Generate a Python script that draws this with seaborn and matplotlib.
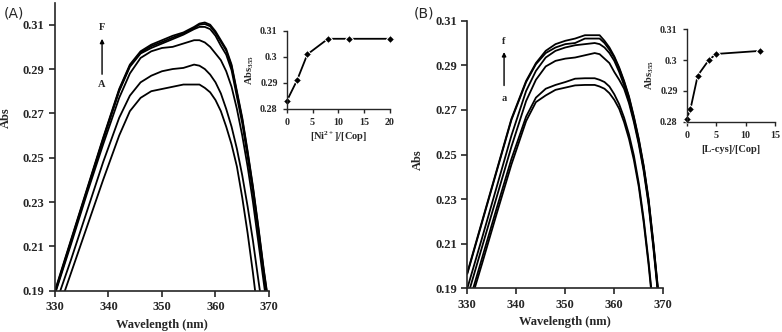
import numpy as np
import pandas as pd
import matplotlib
matplotlib.use('Agg')
import matplotlib.pyplot as plt
import seaborn as sns

sns.set_style('ticks')
matplotlib.rcParams.update({'font.family': ['Liberation Serif', 'DejaVu Serif'],
                            'font.weight': 'bold',
                            'mathtext.fontset': 'custom',
                            'mathtext.rm': 'Liberation Serif:bold',
                            'mathtext.it': 'Liberation Serif:bold',
                            'axes.linewidth': 1.2})

##################################################################
#### spectra
##################################################################
wl = [330, 333, 336, 339, 342, 344, 346, 348, 350, 352, 354, 356, 357,
      358, 359, 360, 361, 362, 363, 364, 365, 366, 367, 368, 369, 370]

# panel A, Ni2+ titration, curves A..F
abs_A = {
    'A': [.177, .198, .219, .240, .260, .271, .277, .280, .281, .282, .283, .283, .283,
          .2815, .2795, .276, .271, .264, .256, .246, .232, .216, .198, .178, .160, .140],
    'B': [.183, .204, .226, .248, .268, .278, .284, .287, .289, .290, .2905, .292, .2915,
          .290, .2875, .284, .279, .272, .264, .254, .242, .228, .2125, .195, .178, .160],
    'C': [.1885, .211, .234, .256, .277, .288, .295, .298, .2995, .300, .3015, .303, .303,
          .302, .300, .297, .294, .289, .282, .272, .260, .246, .230, .212, .194, .176],
    'D': [.189, .212, .235, .258, .280, .291, .297, .2995, .3015, .3035, .3055, .308, .309,
          .309, .308, .305, .3005, .2965, .2895, .2775, .2655, .2505, .2345, .2165, .1975, .1805],
    'E': [.1895, .2125, .2355, .2585, .2805, .2915, .2975, .3003, .3022, .3042, .306, .3085, .310,
          .3103, .3093, .3063, .3023, .2983, .2913, .2793, .2673, .2523, .2363, .2183, .1993, .1823],
    'F': [.190, .213, .236, .259, .281, .292, .298, .301, .303, .305, .3065, .309, .3105,
          .311, .310, .307, .303, .299, .292, .280, .268, .253, .237, .219, .200, .183],
}

# panel B, L-cys, curves a..f
abs_B = {
    'a': [.179, .201, .2235, .2455, .265, .2735, .2765, .279, .280, .281, .2812, .2812, .2805,
          .2795, .2775, .2745, .2705, .2645, .257, .2475, .2355, .2195, .2005, .1785, .160, .140],
    'b': [.181, .2035, .226, .248, .267, .2755, .2795, .2812, .2825, .284, .2842, .2842, .2835,
          .2825, .2805, .277, .2725, .2665, .259, .2495, .237, .221, .202, .180, .160, .140],
    'c': [.186, .2085, .231, .2535, .274, .2835, .2895, .292, .293, .2935, .2945, .2955, .295,
          .293, .291, .287, .2835, .2795, .273, .2645, .2545, .2425, .2275, .2075, .1855, .1645],
    'd': [.190, .2125, .2355, .2585, .2785, .2875, .2935, .2965, .298, .299, .2995, .300, .2995,
          .298, .2955, .292, .287, .281, .274, .2655, .2555, .2435, .2285, .2085, .1865, .1655],
    'e': [.1965, .2195, .2425, .2655, .2825, .2905, .2955, .298, .2995, .300, .302, .302, .302,
          .300, .297, .2935, .2885, .2825, .2755, .2665, .2565, .2445, .2295, .2095, .1875, .1665],
    'f': [.197, .220, .243, .266, .283, .291, .2965, .2995, .301, .302, .3035, .3035, .3035,
          .301, .298, .294, .289, .283, .276, .267, .257, .245, .230, .210, .188, .167],
}

# insets
ratio_Ni = [0, 2, 4, 8, 12, 20]
abs355_Ni = [0.283, 0.291, 0.301, 0.307, 0.307, 0.307]
ratio_cys = [0, 0.63, 1.88, 3.75, 5.0, 12.5]
abs355_cys = [0.281, 0.284, 0.295, 0.300, 0.302, 0.303]

def to_long(curves):
    rows = []
    for name, vals in curves.items():
        for w, v in zip(wl, vals):
            rows.append((name, w, v))
    return pd.DataFrame(rows, columns=['curve', 'wl', 'abs'])

dfA = to_long(abs_A)
dfB = to_long(abs_B)

############################################################################
plt.close('all')
fig = plt.figure(figsize=[7.82, 3.32], dpi=100)
ax1 = fig.add_axes([0.0703, 0.1244, 0.2737, 0.868])
ax2 = fig.add_axes([0.5976, 0.1316, 0.2506, 0.806])
ins1 = fig.add_axes([0.3666, 0.6717, 0.1321, 0.235])
ins2 = fig.add_axes([0.8781, 0.6334, 0.1129, 0.2783])

fz = 9
for ax, df, top in [(ax1, dfA, 0.32), (ax2, dfB, 0.31)]:
    sns.lineplot(data=df, x='wl', y='abs', hue='curve', palette=['k'] * 6, legend=False,
                 estimator=None, sort=False, lw=1.3, ax=ax)
    ax.set_xlim(330, 370)
    ax.set_ylim(0.19, top)
    ax.set_xticks([330, 340, 350, 360, 370])
    ax.set_yticks([0.19, 0.21, 0.23, 0.25, 0.27, 0.29, 0.31])
    ax.set_yticklabels(['0.19', '0.21', '0.23', '0.25', '0.27', '0.29', '0.31'])
    ax.tick_params(labelsize=fz, width=1.2, length=4, direction='out')
    plt.setp(ax.get_xticklabels() + ax.get_yticklabels(), fontweight='bold')
    ax.set_xlabel('Wavelength (nm)', fontsize=9, fontweight='bold')
    ax.set_ylabel('Abs', fontsize=9, fontweight='bold')
    sns.despine(ax=ax)

ax1.yaxis.set_label_coords(-0.2, 0.6)
ax2.yaxis.set_label_coords(-0.22, 0.48)

# arrows
ax1.annotate('', xy=(338.8, 0.3049), xytext=(338.8, 0.2864),
             arrowprops=dict(arrowstyle='-|>', color='k', lw=1, mutation_scale=6))
ax1.text(338.8, 0.3088, 'F', ha='center', va='center', fontsize=7.5, fontweight='bold')
ax1.text(338.8, 0.2828, 'A', ha='center', va='center', fontsize=7.5, fontweight='bold')
ax2.annotate('', xy=(337.5, 0.2972), xytext=(337.5, 0.2797),
             arrowprops=dict(arrowstyle='-|>', color='k', lw=1, mutation_scale=6))
ax2.text(337.5, 0.3006, 'f', ha='center', va='center', fontsize=7.5, fontweight='bold')
ax2.text(337.5, 0.2752, 'a', ha='center', va='center', fontsize=7.5, fontweight='bold')

############################################################################
#### insets
sns.lineplot(x=ratio_Ni, y=abs355_Ni, color='k', marker='D', markersize=4, lw=1.3,
             ax=ins1, clip_on=False)
sns.lineplot(x=ratio_cys, y=abs355_cys, color='k', marker='D', markersize=4, lw=1.3,
             ax=ins2, clip_on=False)

for ins, xmax in [(ins1, 20), (ins2, 15)]:
    ins.set_xlim(0, xmax)
    ins.set_ylim(0.28, 0.31)
    ins.set_xticks(np.arange(0, xmax + 1, 5))
    ins.set_yticks([0.28, 0.29, 0.30, 0.31])
    ins.set_yticklabels(['0.28', '0.29', '0.3', '0.31'])
    ins.tick_params(labelsize=7.2, width=1.0, length=3, direction='out')
    plt.setp(ins.get_xticklabels() + ins.get_yticklabels(), fontweight='bold')
    ins.set_ylabel(r'Abs$_{355}$', fontsize=7.5, fontweight='bold', labelpad=3)
    for s in ['left', 'bottom']:
        ins.spines[s].set_linewidth(1.0)
    sns.despine(ax=ins)

ins1.set_xlabel(r'[Ni$^{2+}$]/[Cop]', fontsize=7.5, fontweight='bold', labelpad=2)
ins2.set_xlabel('[L-cys]/[Cop]', fontsize=7.5, fontweight='bold', labelpad=4)

############################################################################
fig.text(0.018, 0.96, '(A)', ha='center', va='center', fontsize=10,
         family='DejaVu Sans', fontweight='normal')
fig.text(0.542, 0.96, '(B)', ha='center', va='center', fontsize=10,
         family='DejaVu Sans', fontweight='normal')

fig.savefig('out.png', dpi=100)
